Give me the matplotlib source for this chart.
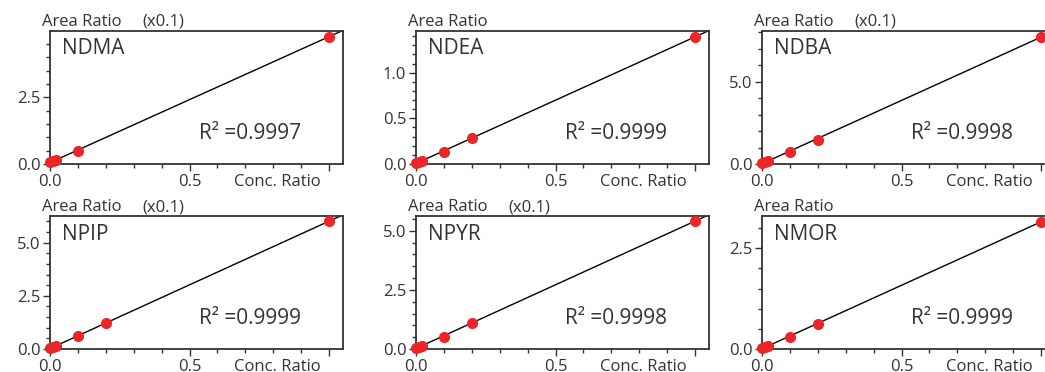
import numpy as np
import matplotlib
matplotlib.use("Agg")
import matplotlib.pyplot as plt
from matplotlib.ticker import MultipleLocator, FixedLocator, FixedFormatter
import matplotlib.transforms as mtransforms

plt.rcParams['font.family'] = ['Open Sans', 'DejaVu Sans']

# ---- data ----
names = ["NDMA", "NDEA", "NDBA", "NPIP", "NPYR", "NMOR"]
r2_labels = ["0.9997", "0.9999", "0.9998", "0.9999", "0.9998", "0.9999"]
scale_labels = ["(x0.1)", "", "(x0.1)", "(x0.1)", "(x0.1)", ""]

conc_ndma = [0.0, 0.01, 0.02, 0.1, 1.0]
area_ndma = [0.06, 0.11, 0.15, 0.50, 4.77]
conc_ndea = [0.0, 0.01, 0.02, 0.1, 0.2, 1.0]
area_ndea = [0.01, 0.025, 0.035, 0.135, 0.281, 1.394]
conc_ndba = [0.0, 0.01, 0.02, 0.1, 0.2, 1.0]
area_ndba = [0.08, 0.13, 0.18, 0.75, 1.46, 7.73]
conc_npip = [0.0, 0.01, 0.02, 0.1, 0.2, 1.0]
area_npip = [0.03, 0.10, 0.14, 0.61, 1.21, 6.01]
conc_npyr = [0.0, 0.01, 0.02, 0.1, 0.2, 1.0]
area_npyr = [0.04, 0.10, 0.14, 0.52, 1.09, 5.41]
conc_nmor = [0.0, 0.01, 0.02, 0.1, 0.2, 1.0]
area_nmor = [0.02, 0.05, 0.07, 0.31, 0.62, 3.16]

concs = [conc_ndma, conc_ndea, conc_ndba, conc_npip, conc_npyr, conc_nmor]
areas = [area_ndma, area_ndea, area_ndba, area_npip, area_npyr, area_nmor]

y_tops = [4.98, 1.457, 8.08, 6.25, 5.62, 3.30]
y_major = [[0.0, 2.5], [0.0, 0.5, 1.0], [0.0, 5.0], [0.0, 2.5, 5.0], [0.0, 2.5, 5.0], [0.0, 2.5]]
y_minor = [0.5, 0.1, 1.0, 0.5, 0.5, 0.5]
x_major = [0.0, 0.5, 1.0]
x_major_labels = ["0.0", "0.5", ""]

W, H = 1045, 372
fig = plt.figure(figsize=(W / 100, H / 100), dpi=100)

col_left = [50, 416, 762]
row_top = [31, 216]
ax_w, ax_h = 293, 133

TXT = "#333333"
RED = "#ec2529"

for i in range(6):
    r, c = divmod(i, 3)
    left = col_left[c] / W
    bottom = (H - row_top[r] - ax_h) / H
    ax = fig.add_axes([left, bottom, ax_w / W, ax_h / H])
    x = np.array(concs[i])
    y = np.array(areas[i])
    coef = np.polyfit(x, y, 1)
    xl = np.array([0.0, 1.1])
    ax.plot(xl, np.polyval(coef, xl), color="black", lw=1.0, zorder=2)
    ax.plot(x, y, "o", color=RED, ms=7, mec=RED, zorder=3, clip_on=False)
    ax.set_xlim(0, 1.05)
    ax.set_ylim(0, y_tops[i])

    ax.xaxis.set_major_locator(FixedLocator(x_major))
    ax.xaxis.set_major_formatter(FixedFormatter(x_major_labels))
    ax.xaxis.set_minor_locator(MultipleLocator(0.1))
    ax.yaxis.set_major_locator(FixedLocator(y_major[i]))
    ax.yaxis.set_major_formatter(FixedFormatter([f"{v:.1f}" for v in y_major[i]]))
    ax.yaxis.set_minor_locator(MultipleLocator(y_minor[i]))
    ax.tick_params(which="major", length=5, width=1, color=TXT, labelsize=12,
                   labelcolor=TXT, pad=2)
    ax.tick_params(which="minor", length=3, width=1, color=TXT)
    for s in ax.spines.values():
        s.set_color(TXT)
        s.set_linewidth(1.3)

    ax.text(12 / ax_w, 1 - 18 / ax_h, names[i], transform=ax.transAxes,
            fontsize=15, color=TXT, ha="left", va="center")
    ax.text(0.51, 0.23, "R² =" + r2_labels[i], transform=ax.transAxes,
            fontsize=15, color=TXT, ha="left", va="center")
    ax.text(-8 / ax_w, 1.0 + 9 / ax_h, "Area Ratio", transform=ax.transAxes,
            fontsize=12, color=TXT, ha="left", va="center")
    if scale_labels[i]:
        ax.text(92 / ax_w, 1.0 + 9 / ax_h, scale_labels[i], transform=ax.transAxes,
                fontsize=12, color=TXT, ha="left", va="center")
    trans = mtransforms.blended_transform_factory(ax.transData, ax.transAxes)
    ax.annotate("Conc. Ratio", xy=(0.97, 0), xycoords=trans,
                xytext=(0, -7), textcoords="offset points",
                ha="right", va="top", fontsize=12, color=TXT)

fig.savefig("out.png", dpi=100)
